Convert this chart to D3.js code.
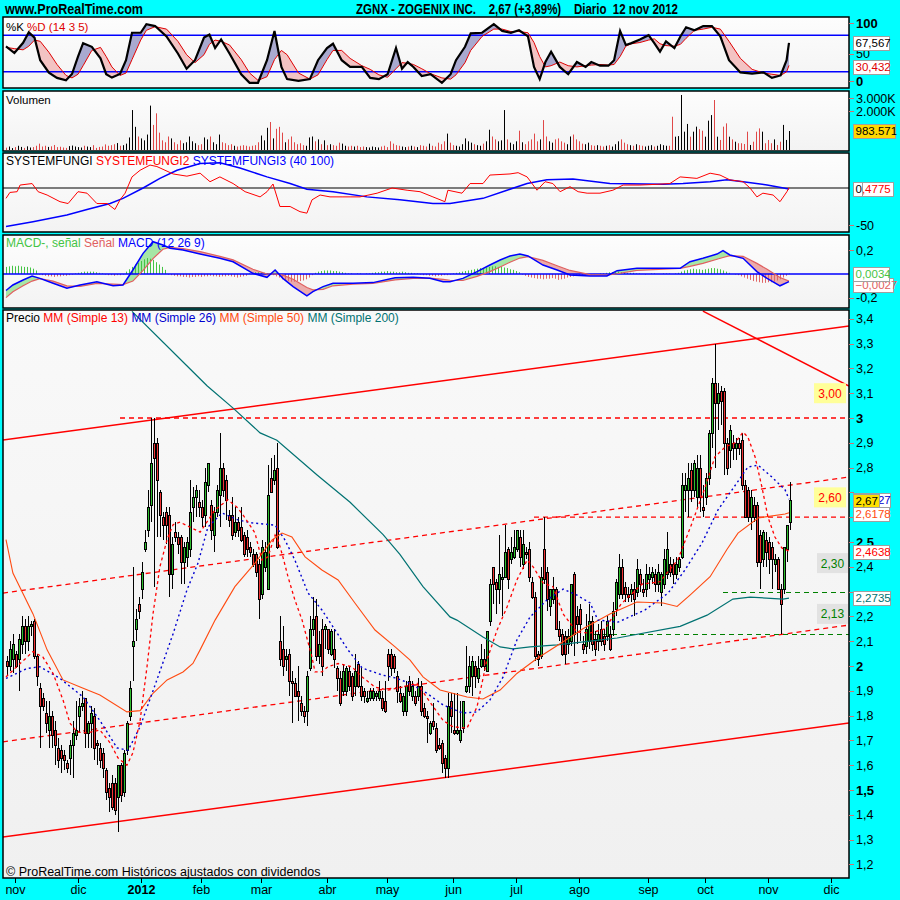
<!DOCTYPE html>
<html><head><meta charset="utf-8">
<script src="https://cdn.jsdelivr.net/npm/d3@7"></script>
<style>body{margin:0;background:#00FFFF;}svg{display:block}</style>
</head><body><svg id="c" width="900" height="900"></svg>
<script>
// ---------------- DATA ----------------
const openP=[2.02,2.00,2.03,2.05,2.03,2.09,2.16,2.10,2.16,2.18,
2.04,1.91,1.87,1.81,1.74,1.80,1.74,1.67,1.66,1.64,
1.61,1.63,1.68,1.72,1.80,1.84,1.87,1.73,1.77,1.80,
1.69,1.67,1.65,1.58,1.51,1.53,1.53,1.47,1.60,1.49,
1.66,1.80,2.08,2.15,2.25,2.31,2.47,2.55,2.65,2.90,
2.90,2.70,2.60,2.62,2.61,2.37,2.54,2.52,2.52,2.42,
2.44,2.47,2.64,2.68,2.66,2.64,2.61,2.73,2.65,2.53,
2.62,2.69,2.80,2.75,2.61,2.61,2.54,2.58,2.56,2.53,
2.52,2.48,2.45,2.45,2.41,2.29,2.40,2.31,2.76,2.75,
2.80,2.10,2.07,2.03,2.05,1.94,1.93,1.90,1.85,1.82,
1.82,1.99,2.15,2.20,2.04,2.15,2.15,2.15,2.05,2.07,
1.99,1.95,1.90,1.90,1.98,1.96,1.92,2.01,1.92,1.90,
1.86,1.87,1.87,1.88,1.87,1.87,1.86,2.05,2.05,2.04,
1.96,1.89,1.82,1.82,1.94,1.88,1.88,1.88,1.92,1.83,
1.80,1.73,1.78,1.75,1.68,1.69,1.63,1.59,1.86,1.74,
1.73,1.70,1.75,1.90,1.92,1.96,2.00,1.95,2.00,2.03,
1.98,2.18,2.40,2.34,2.31,2.35,2.36,2.47,2.43,2.44,
2.47,2.52,2.41,2.46,2.47,2.34,2.28,2.05,2.04,2.47,
2.38,2.24,2.27,2.31,2.15,2.13,2.12,2.09,2.10,2.37,
2.20,2.23,2.09,2.08,2.10,2.18,2.11,2.10,2.15,2.12,
2.12,2.13,2.15,2.23,2.29,2.40,2.32,2.29,2.29,2.31,
2.30,2.37,2.31,2.31,2.35,2.36,2.37,2.33,2.30,2.33,
2.37,2.41,2.41,2.37,2.40,2.44,2.71,2.71,2.79,2.71,
2.68,2.80,2.64,2.68,2.76,2.94,3.14,3.06,3.11,3.11,
2.90,2.87,2.90,2.88,2.90,2.91,2.73,2.71,2.60,2.65,
2.65,2.53,2.43,2.51,2.50,2.48,2.41,2.43,2.31,2.31,
2.47,2.58];
const highP=[2.04,2.10,2.13,2.06,2.13,2.20,2.19,2.20,2.18,2.19,
2.05,1.93,1.89,1.86,1.86,1.82,1.78,1.71,1.68,1.66,
1.62,1.70,1.78,1.86,1.87,1.90,1.87,1.78,1.84,1.83,
1.70,1.69,1.67,1.59,1.53,1.56,1.55,1.60,1.61,1.66,
1.78,1.94,2.40,2.23,2.28,2.42,2.55,2.71,3.00,3.00,
2.92,2.71,2.62,2.64,2.64,2.52,2.58,2.54,2.53,2.50,
2.52,2.75,2.72,2.73,2.71,2.67,2.80,2.82,2.67,2.64,
2.73,2.94,2.82,2.77,2.63,2.68,2.64,2.60,2.64,2.54,
2.55,2.50,2.47,2.46,2.43,2.51,2.50,2.81,2.84,2.85,
2.90,2.20,2.16,2.07,2.07,1.98,1.95,2.00,1.88,1.84,
1.98,2.20,2.28,2.27,2.14,2.19,2.17,2.15,2.15,2.15,
2.00,1.98,2.01,2.00,2.00,1.97,2.05,2.02,1.99,1.91,
1.90,1.91,1.91,1.90,1.94,1.90,1.94,2.07,2.07,2.05,
1.98,1.92,1.89,1.94,1.96,1.94,1.90,1.95,1.94,1.85,
1.82,1.78,1.85,1.77,1.71,1.70,1.64,1.89,1.89,1.89,
1.89,1.86,1.86,2.08,2.04,2.04,2.02,2.04,2.09,2.07,
2.14,2.35,2.40,2.35,2.53,2.40,2.57,2.48,2.52,2.55,
2.55,2.55,2.55,2.48,2.50,2.36,2.30,2.06,2.40,2.60,
2.40,2.31,2.36,2.32,2.18,2.15,2.14,2.15,2.33,2.38,
2.24,2.25,2.12,2.21,2.25,2.20,2.14,2.17,2.18,2.15,
2.20,2.16,2.26,2.35,2.45,2.43,2.34,2.32,2.33,2.34,
2.43,2.39,2.35,2.41,2.40,2.40,2.39,2.41,2.38,2.47,
2.54,2.44,2.43,2.44,2.44,2.78,2.78,2.82,2.82,2.83,
2.85,2.85,2.73,2.78,2.95,3.16,3.30,3.14,3.13,3.12,
2.92,2.97,2.93,2.92,2.92,2.94,2.75,2.72,2.71,2.68,
2.66,2.55,2.55,2.54,2.52,2.50,2.45,2.44,2.33,2.48,
2.56,2.74];
const lowP=[1.96,1.98,1.97,1.99,1.90,2.05,2.05,2.06,2.12,2.03,
1.92,1.67,1.82,1.73,1.67,1.67,1.60,1.59,1.57,1.58,
1.57,1.56,1.55,1.70,1.73,1.82,1.67,1.67,1.67,1.62,
1.60,1.59,1.55,1.46,1.41,1.42,1.40,1.33,1.45,1.47,
1.64,1.78,1.94,2.10,2.19,2.27,2.46,2.52,2.58,2.32,
2.52,2.52,2.51,2.49,2.28,2.31,2.50,2.45,2.33,2.33,
2.40,2.44,2.58,2.60,2.60,2.56,2.56,2.70,2.51,2.46,
2.60,2.56,2.68,2.59,2.56,2.51,2.52,2.52,2.50,2.44,
2.44,2.44,2.40,2.36,2.19,2.27,2.38,2.31,2.70,2.73,
2.47,2.00,1.96,1.98,1.88,1.77,1.88,1.78,1.80,1.77,
1.76,1.98,2.12,2.02,2.01,1.96,2.07,2.05,2.04,1.99,
1.90,1.84,1.88,1.88,1.90,1.86,1.88,1.91,1.86,1.85,
1.85,1.86,1.86,1.86,1.86,1.82,1.81,1.94,1.96,1.97,
1.85,1.85,1.80,1.80,1.88,1.86,1.84,1.86,1.80,1.79,
1.69,1.72,1.74,1.65,1.66,1.57,1.55,1.55,1.73,1.72,
1.72,1.69,1.73,1.89,1.89,1.88,1.91,1.93,1.99,1.98,
1.98,2.16,2.25,2.21,2.25,2.20,2.36,2.31,2.41,2.43,
2.46,2.40,2.39,2.43,2.34,2.27,2.02,2.00,2.03,2.33,
2.22,2.20,2.25,2.15,2.10,2.04,2.01,2.05,2.08,2.04,
2.09,2.10,2.05,2.05,2.07,2.06,2.04,2.06,2.08,2.06,
2.10,2.06,2.12,2.20,2.27,2.27,2.26,2.26,2.26,2.20,
2.28,2.30,2.28,2.28,2.31,2.33,2.30,2.30,2.24,2.31,
2.35,2.36,2.33,2.35,2.38,2.43,2.62,2.60,2.66,2.68,
2.64,2.62,2.60,2.65,2.73,2.88,2.80,2.95,2.97,2.77,
2.77,2.80,2.83,2.83,2.85,2.71,2.60,2.58,2.55,2.58,
2.40,2.31,2.40,2.40,2.37,2.31,2.38,2.31,2.13,2.29,
2.42,2.55];
const closeP=[2.00,2.07,2.09,2.00,2.11,2.16,2.10,2.16,2.17,2.04,
1.96,1.84,1.84,1.77,1.80,1.72,1.68,1.62,1.63,1.62,
1.59,1.68,1.73,1.74,1.84,1.85,1.73,1.77,1.81,1.67,
1.68,1.62,1.59,1.49,1.47,1.43,1.42,1.60,1.48,1.65,
1.77,1.91,2.10,2.19,2.22,2.38,2.50,2.64,2.82,2.84,
2.75,2.61,2.57,2.57,2.37,2.49,2.52,2.49,2.42,2.48,
2.50,2.62,2.68,2.71,2.64,2.60,2.74,2.82,2.55,2.62,
2.71,2.80,2.71,2.67,2.59,2.53,2.58,2.55,2.51,2.45,
2.47,2.46,2.41,2.38,2.27,2.48,2.46,2.69,2.70,2.79,
2.48,2.03,2.00,2.04,1.94,1.93,1.88,1.88,1.82,1.80,
1.96,2.15,2.19,2.04,2.09,2.00,2.16,2.07,2.14,2.03,
1.95,1.85,1.98,1.99,1.92,1.88,1.98,1.92,1.88,1.88,
1.87,1.90,1.90,1.89,1.90,1.83,1.82,2.00,1.99,1.99,
1.90,1.86,1.88,1.92,1.90,1.92,1.85,1.92,1.82,1.80,
1.79,1.77,1.76,1.66,1.67,1.61,1.59,1.84,1.80,1.73,
1.74,1.74,1.86,1.92,2.00,2.02,1.96,1.99,2.03,2.00,
2.14,2.33,2.33,2.31,2.37,2.36,2.46,2.35,2.46,2.48,
2.55,2.44,2.49,2.45,2.36,2.28,2.04,2.03,2.36,2.35,
2.27,2.31,2.31,2.15,2.12,2.05,2.05,2.12,2.33,2.13,
2.17,2.17,2.07,2.15,2.18,2.09,2.07,2.13,2.10,2.09,
2.18,2.07,2.22,2.34,2.40,2.29,2.29,2.28,2.31,2.27,
2.39,2.33,2.30,2.37,2.37,2.38,2.33,2.38,2.37,2.43,
2.47,2.38,2.37,2.41,2.43,2.73,2.73,2.76,2.71,2.82,
2.80,2.68,2.63,2.76,2.94,3.14,3.06,3.10,3.07,2.90,
2.80,2.95,2.88,2.90,2.88,2.73,2.60,2.60,2.68,2.60,
2.42,2.42,2.54,2.46,2.43,2.43,2.43,2.31,2.25,2.48,
2.57,2.67];
// volume in thousands
const volumeK=[120,180,100,150,220,160,110,190,130,150,220,330,180,220,160,190,260,150,170,130,
110,200,230,180,150,130,220,180,150,250,110,160,180,290,220,250,300,360,220,250,330,650,
2070,1200,700,600,500,800,2300,1300,1900,900,500,400,700,600,400,300,500,350,400,
700,450,350,250,300,650,550,700,400,300,800,400,350,250,300,220,180,220,250,220,180,220,250,400,750,500,1150,1450,600,1100,
1200,900,400,550,700,400,300,350,250,220,650,700,450,550,300,500,250,300,250,220,380,330,220,180,220,180,220,150,180,150,130,180,150,130,180,220,150,450,330,250,
220,180,150,180,220,180,150,250,220,180,330,220,180,380,300,450,850,380,250,220,180,300,600,450,380,300,250,220,330,450,1050,700,550,450,500,2070,550,380,300,450,
1000,400,300,450,550,850,450,550,1550,700,450,380,550,600,450,380,300,700,800,550,450,330,300,380,250,220,250,220,180,220,250,180,300,450,550,380,300,250,220,300,250,220,180,220,250,180,220,300,250,220,
220,1725,690,720,2850,950,1350,690,950,1210,1080,1000,690,1520,1810,2590,690,520,1210,1380,690,550,430,350,350,310,950,260,430,950,1120,950,350,520,350,550,260,430,1300,520,983.571];

const stochIdx=[0,2.8,5.7,7.6,9.5,11.4,14.3,17,20,22,24,25.7,28.6,31.5,33.4,35.3,38,40,42,44.9,46.8,49.7,53.5,57.3,60.2,63,66,67.8,69.7,71.7,74.5,78.4,81.2,84,87,89.5,91.8,93.7,97.5,101.3,104,107,109,111.9,114.7,118.6,121.4,124.3,127.2,130,132,133.9,135.8,138.6,141.5,145.3,148.2,150,153,154.9,158.7,162.6,165.4,168.3,171,174,176,177.9,179.8,181.7,184.6,187.4,190.3,193.2,195.1,198,200.8,202.7,204.7,206.6,208.5,211.3,214.2,216.1,218,220,222.8,224.8,226.7,229.5,232.4,235.3,238.1,241,244.8,248.7,252.5,255.3,258.2,260.2,261];
const stochK=[61.6,50.8,67.6,84.7,76,39,18.6,10,6.2,16.4,45,67,61,42,16,10.5,16.4,39,84,84,98,95,78,50,25,39,76,81,59,73,50,16,2,2,39,87,28,8,5,8,39,59,66,39,28,28,10,8,16,59,25,36,28,13,16,2,16,39,61,83,84,98,87,84,88,78,28,8,36,53,28,16,36,28,36,30,30,39,87,64,67,73,80,67,53,70,59,78,93,88,95,95,78,39,19,17,19,10,14,39,67.567];
const stochD=[60,58,56,62,72,70,52,32,14,10,16,30,55,60,45,28,14,18,40,72,88,94,90,70,48,35,48,65,72,70,64,40,18,6,12,40,55,48,18,8,15,40,55,55,42,30,24,15,11,25,35,34,32,25,17,10,8,15,35,55,78,90,90,86,86,84,68,45,28,30,36,30,28,30,31,32,31,32,45,62,66,68,72,74,66,63,62,65,75,88,90,93,90,70,42,24,18,16,14,20,30.432];

const sfRedIdx=[0,1.3,3.7,4.7,8.7,10.7,13.7,18,20.7,24,27,30.3,33.7,36.3,38,39.7,42,44.7,48,50.3,53,55.7,60.3,64.7,68,71.3,75.7,79.7,84.7,87,89,91.3,94.7,98,100.3,102,104.7,108,112.3,114.7,118,123.7,128.7,133.7,138,142.3,146.3,147.3,152,154.7,159,161.3,168,170.7,173.7,177,179.7,182.3,184.7,188,190.7,193.7,198,202.3,205.7,211.3,217,221.3,224.7,230.3,234.7,238,241.3,245.7,248,250.3,252.3,255.7,258,260.3,261];
const sfRed=[-14,-6,-5,4,6,-5,-9.5,-18.5,-21,-5,-7,-21,-21,-29,-16,-7,15,24,31,29,24,19,16,20,8.5,15,6,-5,-12,-5,5.4,-25,-25,-32,-34,-16,-9.5,-12,-12,-12,-12,-7,0,-3,-5,-12,-18.5,-3,-7,6,6,17.5,19,20.7,15,-3,8.5,6,-5,1.8,-5,-7,-7,-3,4,4,5,6,15,13,20,17.5,11,8.5,0,-12,-7,-9.5,-18.5,-5,0.4775];
const sfBlueIdx=[0,9,20.3,27,34.7,39,45.7,51.3,57,64.7,71.3,78,87,94.7,100.3,109,120.3,131.3,142.3,148,159,167,173.7,180.3,189,201.3,219,225.7,234.7,240.3,245.7,253.7,261];
const sfBlue=[-52,-45.5,-36.5,-29,-21,-14,0,13,24,33,34,27,15,6,-1.8,-5,-12,-16,-21,-21,-14,-3,6,11,12,6,5,6,8.5,11,8.5,4,-1.5];

const macdIdx=[0,2.3,5.7,8.7,11.3,15.7,20.3,24.7,30.3,35.7,39,42.3,45.7,49,52.3,54.7,59,64.7,71.3,75.7,82.3,87,89.7,92.3,95.7,100.3,102.3,105.7,109,115.7,122.3,129.7,135.7,141.3,145.7,148,152.3,157,161.3,164.7,168,171.3,174,179,183.7,188,194.7,200.3,203.7,210.3,224.7,228,232.3,237,239,241.3,245.7,250.3,253.7,258,261];
const macdLine=[-0.14,-0.093,-0.051,-0.017,-0.037,-0.079,-0.121,-0.093,-0.065,-0.10,-0.093,0.034,0.175,0.274,0.246,0.218,0.203,0.169,0.133,0.104,0.006,-0.028,0.034,-0.037,-0.107,-0.186,-0.15,-0.107,-0.079,-0.079,-0.073,-0.031,-0.028,-0.037,-0.065,-0.065,-0.037,0.02,0.076,0.119,0.153,0.169,0.153,0.076,0.034,-0.008,-0.017,-0.017,0.028,0.048,0.048,0.104,0.133,0.169,0.198,0.161,0.133,0.02,-0.037,-0.10,-0.065];
const signalLine=[-0.20,-0.15,-0.10,-0.06,-0.04,-0.06,-0.10,-0.105,-0.08,-0.085,-0.09,-0.06,0.03,0.13,0.21,0.225,0.215,0.19,0.15,0.12,0.04,0.0,0.0,-0.01,-0.045,-0.115,-0.135,-0.13,-0.10,-0.085,-0.08,-0.05,-0.037,-0.035,-0.045,-0.053,-0.055,-0.02,0.02,0.06,0.10,0.135,0.147,0.115,0.07,0.03,-0.005,-0.01,0.002,0.03,0.048,0.065,0.09,0.125,0.14,0.155,0.15,0.09,0.04,-0.03,-0.06];
const macdHist=[0.06,0.065,0.07,0.065,0.07,0.065,0.06,0.06,0.055,0.045,0.03,
-0.005,-0.01,-0.015,-0.02,-0.02,-0.025,-0.02,-0.02,-0.015,-0.015,-0.01,-0.005,
0.005,0.01,0.015,0.02,0.02,0.02,0.02,0.015,0.01,0.005,
-0.005,-0.01,-0.01,-0.015,-0.01,-0.01,-0.005,
0.02,0.04,0.06,0.08,0.095,0.11,0.125,0.135,0.13,0.12,0.1,0.08,0.06,0.035,
-0.005,-0.01,-0.015,-0.02,-0.02,-0.025,-0.025,-0.03,-0.025,-0.025,-0.02,-0.025,-0.02,-0.02,-0.015,-0.02,-0.02,-0.025,-0.02,-0.02,-0.015,-0.02,-0.025,-0.03,-0.025,-0.02,-0.015,
0.005,0.01,0.015,0.015,0.015,0.01,0.005,0.0,
-0.01,-0.02,-0.03,-0.045,-0.055,-0.06,-0.065,-0.065,-0.06,-0.06,-0.055,-0.045,-0.03,-0.01,
0.01,0.02,0.025,0.03,0.03,0.03,0.025,0.025,0.02,0.015,
0.01,0.005,0.005,0.0,0.005,0.005,0.0,0.005,0.005,
0.01,0.015,0.015,0.02,0.02,0.025,0.02,0.02,0.015,0.015,0.02,0.015,0.01,0.01,0.005,0.005,
-0.005,-0.01,-0.01,-0.015,-0.015,-0.02,-0.015,-0.015,-0.01,-0.01,-0.005,
0.005,0.01,0.015,0.02,0.025,0.03,0.035,0.04,0.045,0.05,0.05,0.055,
0.06,0.065,0.065,0.06,0.06,0.055,0.05,0.04,0.035,0.025,0.015,
-0.005,-0.015,-0.025,-0.03,-0.035,-0.04,-0.04,-0.045,-0.04,-0.04,-0.035,-0.04,-0.05,-0.045,-0.04,-0.03,-0.025,-0.02,-0.015,
-0.01,-0.01,-0.005,-0.01,-0.005,-0.005,0.0,0.005,0.005,
0.01,0.015,0.015,0.02,0.02,0.015,0.015,0.01,0.01,0.01,0.005,
0.005,0.0,-0.005,0.0,0.005,0.005,0.0,0.0,0.005,0.005,0.005,0.0,0.005,0.01,0.02,
0.03,0.035,0.04,0.045,0.04,0.04,0.035,0.04,0.045,0.05,0.05,0.045,0.04,0.03,0.02,
0.01,0.0,-0.005,-0.01,-0.02,
-0.03,-0.04,-0.05,-0.06,-0.065,-0.07,-0.075,-0.075,-0.07,-0.07,-0.065,-0.055,-0.045,-0.03,-0.015,0.0034];
const macdLastLabels=[0.0034,-0.0027];

const sma13Idx=[0,4.7,9,12.3,15.7,19,21.3,23.7,27,31.3,34.7,37.3,40.3,42.3,44.7,47,49,51.3,53.7,55.7,58,61.3,64.7,69.7,74,77.3,79.7,83,85.3,87.3,89.7,90.7,92.3,94,96.3,98.7,102,103,105.3,107.3,110.7,115.3,118.7,123,127.3,132.3,137,141.3,145.7,149,153.7,157,160.3,163.7,167,170.3,173.7,175.7,179,182.3,185.7,190.3,194.7,199.7,205,212,218,224,228.7,233,236.3,239.7,243,245.7,247.3,249.7,252,254,256.3,258.7,261];
const sma13=[1.956,2.01,2.058,2.036,1.97,1.863,1.77,1.734,1.73,1.742,1.69,1.63,1.60,1.65,1.78,1.997,2.21,2.40,2.51,2.57,2.58,2.56,2.54,2.63,2.67,2.637,2.597,2.536,2.427,2.44,2.528,2.508,2.44,2.36,2.266,2.185,2.036,1.976,1.976,1.997,2.01,1.997,1.956,1.915,1.903,1.915,1.93,1.855,1.78,1.755,1.75,1.835,2.024,2.145,2.238,2.347,2.427,2.40,2.335,2.32,2.21,2.137,2.133,2.15,2.25,2.33,2.34,2.43,2.577,2.72,2.843,2.883,2.90,2.943,2.923,2.843,2.72,2.60,2.52,2.475,2.4638];
const sma26Idx=[0,7,11.3,18,25.7,31.3,37,40.7,44.7,50.3,55.7,60.3,64,67.3,72,77.3,82,89.7,93,96.3,100.7,105.3,109.7,114,118.7,125.3,129.7,134.7,140.3,145.7,152.3,157,161.3,165.7,170.3,174.7,180.3,185.7,190.3,194.7,197.3,204,213,220.7,226.3,232,237.3,242,247.3,250.7,255.3,259.7,261];
const sma26=[1.95,1.99,1.997,1.95,1.875,1.78,1.67,1.66,1.755,1.944,2.13,2.306,2.415,2.56,2.617,2.589,2.577,2.568,2.508,2.427,2.294,2.226,2.145,2.065,1.992,1.964,1.952,1.93,1.89,1.843,1.81,1.815,1.863,1.956,2.105,2.198,2.266,2.31,2.286,2.254,2.185,2.177,2.226,2.294,2.387,2.496,2.629,2.71,2.802,2.81,2.762,2.71,2.6727];
const sma50Idx=[0,2.3,9,13.7,19,24.7,31.3,40.3,44.7,49,53.7,59,62.3,64.7,69.7,76.3,83,88.7,92,95.3,99.7,105.3,110.7,116.3,123,129.7,134.7,139,144.7,153.7,159,164.7,170.3,177,184.7,192.3,201.3,210.3,219,223.7,228,234.7,240.3,244,250.7,259.7,261];
const sma50=[2.51,2.375,2.21,2.065,1.944,1.915,1.883,1.815,1.82,1.89,1.944,1.976,2.01,2.065,2.185,2.32,2.415,2.508,2.536,2.52,2.44,2.387,2.347,2.254,2.145,2.077,2.024,1.956,1.903,1.875,1.867,1.903,1.97,2.03,2.09,2.15,2.21,2.258,2.254,2.24,2.286,2.36,2.47,2.536,2.597,2.613,2.6178];
const sma200Idx=[42,57,67,75.7,84.7,90.3,103.7,114.7,125.7,131.3,139,148,150.3,159,164.7,169,174.7,183.7,194.7,203.7,224.7,233.7,242.3,248,259,261];
const sma200=[3.43,3.25,3.13,3.04,2.94,2.91,2.77,2.66,2.53,2.45,2.32,2.198,2.185,2.117,2.077,2.069,2.077,2.085,2.10,2.113,2.16,2.205,2.27,2.278,2.27,2.2735];

// trend / channel lines: [index0, price0, index1, price1]
const solidLines=[[-1,2.911,281,3.371],[-1,1.31,281,1.77],[232.3,3.431,281,3.129]];
const dashedLines=[[-1,1.694,281,2.165],[-1,2.294,281,2.762],[38,3.0,281,3.0],[176,2.60,281,2.60]];
const greenLevels=[[239,2.30],[196,2.13]];
const levelTags=['3,00','2,60','2,30','2,13'];
const levelTagPrices=[3.10,2.68,2.415,2.21];

const monthLabels=['nov','dic','2012','feb','mar','abr','may','jun','jul','ago','sep','oct','nov','dic'];
const priceTicks=[1.2,1.3,1.4,1.5,1.6,1.7,1.8,1.9,2,2.1,2.2,2.3,2.4,2.5,2.6,2.7,2.8,2.9,3,3.1,3.2,3.3,3.4];
const priceBoldTicks=[1.5,2,2.5,3];
const priceHiddenTicks=[2.3,2.6,2.7];
const stochTicks=[0,50,100];
const volTicks=[2000,3000];
const sfTicks=[-50];
const macdTicks=[-0.2,0.2];
const holidays=['2011-11-24','2011-12-26','2012-01-02','2012-01-16','2012-02-20','2012-04-06','2012-05-28','2012-07-04','2012-09-03','2012-10-29','2012-10-30','2012-11-22','2012-12-25'];

// ---------------- DRAW ----------------
const svg=d3.select('#c');
const F="'Liberation Sans', Arial, sans-serif";
const defs=svg.append('defs');
const X0=3,X1=849;
const x=d3.scaleLinear().domain([0,275]).range([6,831]);
const yP=d3.scaleLinear().domain([1.2,3.4]).range([864.4,318.8]);
const yS=d3.scaleLinear().domain([0,100]).range([84,23]);
const yV=d3.scaleLinear().domain([0,1000]).range([150,130.7]);
const yF=d3.scaleLinear().domain([0,-50]).range([188,225]);
const yM=d3.scaleLinear().domain([0,0.2]).range([274,250.4]);
const comma=s=>s.replace('.',',');

const panels={p1:[17,88],p2:[91,151],p3:[153,232],p4:[235,308],p5:[310,878]};
function grad(id,c0,c1){const g=defs.append('linearGradient').attr('id',id).attr('x1',0).attr('y1',0).attr('x2',0).attr('y2',1);
 g.append('stop').attr('offset',0).attr('stop-color',c0);g.append('stop').attr('offset',1).attr('stop-color',c1);}
grad('gp','#FDFDFD','#F3F3F3');grad('gprice','#F9F9F9','#F0F0F0');
Object.entries(panels).forEach(([k,[a,b]])=>{
 defs.append('clipPath').attr('id','clip'+k).append('rect').attr('x',X0).attr('y',a).attr('width',X1-X0).attr('height',b-a);
 svg.append('rect').attr('x',X0).attr('y',a).attr('width',X1-X0).attr('height',b-a).attr('fill',k==='p5'?'url(#gprice)':'url(#gp)');
});
const layer=k=>svg.append('g').attr('clip-path',`url(#clip${k})`);

// header
svg.append('text').attr('x',5).attr('y',14).attr('font-family',"'Liberation Sans Narrow','Liberation Sans',Arial").attr('font-weight','bold').attr('font-size',14).attr('textLength',138).attr('lengthAdjust','spacingAndGlyphs').text('www.ProRealTime.com');
svg.append('text').attr('x',356).attr('y',14).attr('font-family',"'Liberation Sans Narrow','Liberation Sans',Arial").attr('font-weight','bold').attr('font-size',14).attr('textLength',322).attr('lengthAdjust','spacingAndGlyphs').attr('xml:space','preserve').text('ZGNX - ZOGENIX INC.    2,67 (+3,89%)    Diario  12 nov 2012');

// ---- Stochastic ----
const g1=layer('p1');
const kd=stochIdx.map((t,j)=>({t,k:stochK[j],d:stochD[j]}));
defs.append('clipPath').attr('id','aboveD').append('path').attr('d',d3.area().x(d=>x(d.t)).y0(0).y1(d=>yS(d.d))(kd));
defs.append('clipPath').attr('id','belowD').append('path').attr('d',d3.area().x(d=>x(d.t)).y0(d=>yS(d.d)).y1(200)(kd));
const aKD=d3.area().x(d=>x(d.t)).y0(d=>yS(d.d)).y1(d=>yS(d.k));
g1.append('g').attr('clip-path','url(#aboveD)').append('path').attr('d',aKD(kd)).attr('fill','#A9A9CF');
g1.append('g').attr('clip-path','url(#belowD)').append('path').attr('d',aKD(kd)).attr('fill','#F3C3C3');
[80,20].forEach(v=>g1.append('line').attr('x1',X0).attr('x2',X1).attr('y1',yS(v)).attr('y2',yS(v)).attr('stroke','#0000FF').attr('stroke-width',1.5));
g1.append('path').attr('d',d3.line().x(d=>x(d.t)).y(d=>yS(d.d))(kd)).attr('fill','none').attr('stroke','#E00000').attr('stroke-width',1);
g1.append('path').attr('d',d3.line().x(d=>x(d.t)).y(d=>yS(d.k))(kd)).attr('fill','none').attr('stroke','#000').attr('stroke-width',2.2);

// ---- Volume ----
const g2=layer('p2');
volumeK.forEach((v,i)=>{const xx=Math.round(x(i))+0.5;
 g2.append('line').attr('x1',xx).attr('x2',xx).attr('y1',yV(0)).attr('y2',yV(v)).attr('stroke',closeP[i]>=openP[i]?'#000':'#E04848').attr('stroke-width',1);});

// ---- SystemFungi ----
const g3=layer('p3');
g3.append('line').attr('x1',X0).attr('x2',X1).attr('y1',yF(0)).attr('y2',yF(0)).attr('stroke','#000').attr('stroke-width',1.2);
g3.append('path').attr('d',d3.line().x((t)=>x(t)).y((t,j)=>yF(sfBlue[j]))(sfBlueIdx)).attr('fill','none').attr('stroke','#0000FF').attr('stroke-width',1.5);
g3.append('path').attr('d',d3.line().x((t)=>x(t)).y((t,j)=>yF(sfRed[j]))(sfRedIdx)).attr('fill','none').attr('stroke','#FF0000').attr('stroke-width',1);

// ---- MACD ----
const g4=layer('p4');
const ms=macdIdx.map((t,j)=>({t,m:macdLine[j],s:signalLine[j]}));
defs.append('clipPath').attr('id','aboveS').append('path').attr('d',d3.area().x(d=>x(d.t)).y0(0).y1(d=>yM(d.s))(ms));
defs.append('clipPath').attr('id','belowS').append('path').attr('d',d3.area().x(d=>x(d.t)).y0(d=>yM(d.s)).y1(400)(ms));
const aMS=d3.area().x(d=>x(d.t)).y0(d=>yM(d.s)).y1(d=>yM(d.m));
g4.append('g').attr('clip-path','url(#aboveS)').append('path').attr('d',aMS(ms)).attr('fill','#A6E6A6');
g4.append('g').attr('clip-path','url(#belowS)').append('path').attr('d',aMS(ms)).attr('fill','#EBAAAA');
macdHist.forEach((h,i)=>{const xx=Math.round(x(i))+0.5;
 g4.append('line').attr('x1',xx).attr('x2',xx).attr('y1',yM(0)).attr('y2',yM(h)).attr('stroke',h>=0?'#44C444':'#E06666').attr('stroke-width',1);});
g4.append('line').attr('x1',X0).attr('x2',X1).attr('y1',yM(0)).attr('y2',yM(0)).attr('stroke','#0000FF').attr('stroke-width',1.5);
g4.append('path').attr('d',d3.line().x(d=>x(d.t)).y(d=>yM(d.s))(ms)).attr('fill','none').attr('stroke','#E06060').attr('stroke-width',1.2);
g4.append('path').attr('d',d3.line().x(d=>x(d.t)).y(d=>yM(d.m))(ms)).attr('fill','none').attr('stroke','#0000FF').attr('stroke-width',1.5);

// ---- Price ----
const g5=layer('p5');
solidLines.forEach(l=>g5.append('line').attr('x1',x(l[0])).attr('y1',yP(l[1])).attr('x2',x(l[2])).attr('y2',yP(l[3])).attr('stroke','#FF0000').attr('stroke-width',1.5));
dashedLines.forEach(l=>g5.append('line').attr('x1',x(l[0])).attr('y1',yP(l[1])).attr('x2',x(l[2])).attr('y2',yP(l[3])).attr('stroke','#FF0000').attr('stroke-width',1.3).attr('stroke-dasharray','5,4'));
greenLevels.forEach(l=>g5.append('line').attr('x1',x(l[0])).attr('x2',X1).attr('y1',Math.round(yP(l[1]))+0.5).attr('y2',Math.round(yP(l[1]))+0.5).attr('stroke','#008000').attr('stroke-width',1.2).attr('stroke-dasharray','5,4'));
const cg=g5.append('g').attr('shape-rendering','crispEdges');
closeP.forEach((c,i)=>{const xc=Math.round(x(i));const o=openP[i];
 const hi=Math.max(highP[i],o,c),lo=Math.min(lowP[i],o,c);
 cg.append('line').attr('x1',xc+1.5).attr('x2',xc+1.5).attr('y1',Math.round(yP(hi))).attr('y2',Math.round(yP(lo))).attr('stroke','#000');
 const yt=Math.round(yP(Math.max(o,c))),yb=Math.round(yP(Math.min(o,c)));
 cg.append('rect').attr('x',xc+0.5).attr('y',yt+0.5).attr('width',2).attr('height',Math.max(1,yb-yt)).attr('fill',c>=o?'#2EBD2E':'#F03434').attr('stroke','#000').attr('stroke-width',1);
});
const ln=(idx,vals)=>d3.line().x((t)=>x(t)).y((t,j)=>yP(vals[j]))(idx);
g5.append('path').attr('d',ln(sma200Idx,sma200)).attr('fill','none').attr('stroke','#007272').attr('stroke-width',1.2);
g5.append('path').attr('d',ln(sma50Idx,sma50)).attr('fill','none').attr('stroke','#FF4A10').attr('stroke-width',1.1);
g5.append('path').attr('d',ln(sma26Idx,sma26)).attr('fill','none').attr('stroke','#0000D0').attr('stroke-width',1.4).attr('stroke-dasharray','2,3');
g5.append('path').attr('d',ln(sma13Idx,sma13)).attr('fill','none').attr('stroke','#FF0000').attr('stroke-width',1.3).attr('stroke-dasharray','3,3');
levelTags.forEach((t,j)=>{const yc=yP(levelTagPrices[j]);const red=j<2;
 g5.append('rect').attr('x',red?814:817).attr('y',yc-10).attr('width',red?32:31).attr('height',20).attr('fill',red?'#FFFF99':'#E2E2E2');
 g5.append('text').attr('x',red?830:832.5).attr('y',yc+4.5).attr('text-anchor','middle').attr('font-family',F).attr('font-size',12).attr('fill',red?'#FF0000':'#008000').text(t);});

// frames
Object.values(panels).forEach(([a,b])=>svg.append('rect').attr('x',X0).attr('y',a).attr('width',X1-X0).attr('height',b-a).attr('fill','none').attr('stroke','#000').attr('stroke-width',1.5));

// panel titles
function title(y,parts,size){const t=svg.append('text').attr('x',6).attr('y',y).attr('font-family',F).attr('font-size',size||12).attr('xml:space','preserve');
 parts.forEach(p=>t.append('tspan').attr('fill',p[1]).text(p[0]));}
title(31,[['%K ','#000'],['%D (14 3 5)','#E00000']],11.5);
title(104,[['Volumen','#000']],11.5);
title(165,[['SYSTEMFUNGI ','#000'],['SYSTEMFUNGI2 ','#FF0000'],['SYSTEMFUNGI3 (40 100)','#0000FF']],12);
title(247,[['MACD-, señal ','#44C444'],['Señal ','#E06060'],['MACD (12 26 9)','#0000FF']],12);
title(322,[['Precio ','#000'],['MM (Simple 13) ','#FF0000'],['MM (Simple 26) ','#0000D0'],['MM (Simple 50) ','#FF4A10'],['MM (Simple 200)','#007272']],12);
svg.append('text').attr('x',6).attr('y',876).attr('font-family',F).attr('font-size',12.5).attr('fill','#000').text('© ProRealTime.com  Históricos ajustados con dividendos');

// right axes
const fmt=v=>comma((Math.round(v*10)/10).toString());
function tick(yc){svg.append('line').attr('x1',X1).attr('x2',X1+5).attr('y1',Math.round(yc)+0.5).attr('y2',Math.round(yc)+0.5).attr('stroke','#D07070');}
function axisLab(yc,txt,bold,hide){tick(yc); if(hide)return;
 svg.append('text').attr('x',856).attr('y',yc+4.5).attr('font-family',F).attr('font-size',bold?13:12.5).attr('font-weight',bold?'bold':'normal').attr('fill','#000').text(txt);}
priceTicks.forEach(v=>axisLab(yP(v),fmt(v),priceBoldTicks.includes(v),priceHiddenTicks.includes(v)));
stochTicks.forEach(v=>axisLab(Math.min(yS(v),81),String(v),v!==50));
volTicks.forEach(v=>axisLab(Math.max(yV(v),98),d3.format(',')(v).replace(',','.')+'K',false));
sfTicks.forEach(v=>axisLab(yF(v),String(v),false));
macdTicks.forEach(v=>axisLab(yM(v),fmt(v),false));

function box(xl,yc,w,txt,color,fill){svg.append('rect').attr('x',xl+0.5).attr('y',Math.round(yc-7)+0.5).attr('width',w).attr('height',14).attr('fill',fill||'#fff').attr('stroke','#A0A0A0');
 svg.append('text').attr('x',xl+2.5).attr('y',yc+4.3).attr('font-family',F).attr('font-size',11.5).attr('fill',color).text(txt);}
const last=a=>a[a.length-1];
box(853,yS(last(stochK)),36,comma(d3.format('.3f')(last(stochK))),'#000');
box(853,66.5,36,comma(d3.format('.3f')(last(stochD))),'#E00000');
box(853,131,42,d3.format('.3f')(last(volumeK)),'#000','#FFD800');
box(853,189,40,comma(d3.format('.4f')(last(sfRed))),'#FF0000');
box(853,189,9,'0','#000');
box(853,285,40,comma(d3.format('.4f')(macdLastLabels[1])),'#E06060');
box(853,274,36,comma(d3.format('.4f')(macdLastLabels[0])),'#44C444');
box(853,yP(last(sma26))+1,37,comma(d3.format('.4f')(last(sma26))),'#0000D0');
box(853,yP(last(closeP))+1,26,comma(d3.format('.2f')(last(closeP))),'#000','#FFE000');
box(853,514,36,comma(d3.format('.4f')(last(sma50))),'#FF4A10');
box(853,yP(last(sma13))+1,36,comma(d3.format('.4f')(last(sma13))),'#FF0000');
box(853,yP(last(sma200)),37,comma(d3.format('.4f')(last(sma200))),'#007272');

// x axis (trading days)
const hol=new Set(holidays);const fd=d3.timeFormat('%Y-%m-%d');const days=[];
for(let d=new Date(2011,9,27);d<=new Date(2012,11,31);d.setDate(d.getDate()+1)){const w=d.getDay();if(w===0||w===6||hol.has(fd(d)))continue;days.push(new Date(d));}
const mt=[];for(let k=1;k<days.length;k++){if(days[k].getMonth()!==days[k-1].getMonth())mt.push(k);}
mt.slice(0,monthLabels.length).forEach((k,j)=>{const xx=Math.round(x(k))+0.5;
 svg.append('line').attr('x1',xx).attr('x2',xx).attr('y1',878).attr('y2',883).attr('stroke','#000');
 svg.append('text').attr('x',xx).attr('y',894).attr('text-anchor','middle').attr('font-family',F).attr('font-size',12.5).attr('font-weight',monthLabels[j]==='2012'?'bold':'normal').text(monthLabels[j]);});
</script></body></html>
